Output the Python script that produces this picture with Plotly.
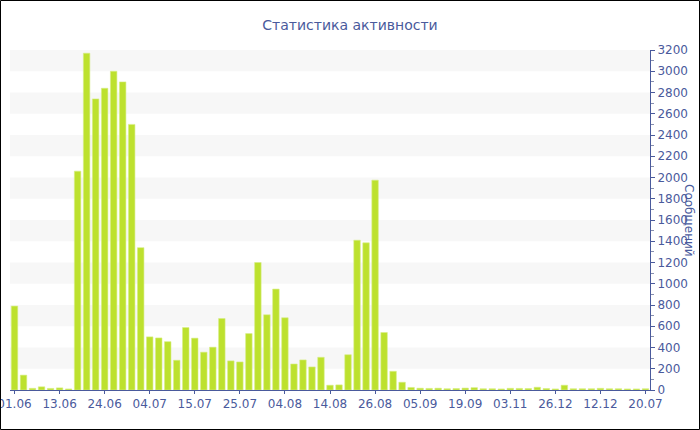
import plotly.graph_objects as go

tick_labels = ["01.06", "13.06", "24.06", "04.07", "15.07", "25.07", "04.08", "14.08",
               "26.08", "05.09", "19.09", "03.11", "26.12", "12.12", "20.07"]

messages = [790, 140, 16, 30, 15, 20, 10, 2060, 3170, 2740,
            2840, 3000, 2900, 2500, 1340, 500, 490, 455, 280, 588,
            488, 356, 403, 673, 274, 264, 531, 1200, 708, 950,
            680, 245, 283, 217, 308, 45, 48, 332, 1410, 1385,
            1975, 541, 176, 73, 24, 17, 15, 17, 12, 14,
            18, 22, 12, 12, 10, 16, 15, 14, 26, 14,
            10, 45, 12, 12, 12, 16, 12, 12, 10, 10, 12]

x_idx = list(range(len(messages)))
label_step = 5

txt = "#4a5a9c"
W, H = 700, 430
ml, mr, mt, mb = 10, 50, 50, 40
pw, ph = W - ml - mr, H - mt - mb

fig = go.Figure()
fig.add_trace(go.Bar(
    x=x_idx, y=messages,
    marker=dict(color="#bde12e", line=dict(color="#d6ee86", width=0.6)),
    hoverinfo="y",
))

shapes = []
for lo in range(200, 3200, 400):
    shapes.append(dict(type="rect", xref="paper", yref="y", x0=0, x1=1, y0=lo, y1=lo + 200,
                       fillcolor="#f7f7f7", line=dict(width=0), layer="below"))
# outer frame
shapes.append(dict(type="rect", xref="paper", yref="paper",
                   x0=(0.5 - ml) / pw, x1=(W - 0.5 - ml) / pw,
                   y0=-(mb - 0.5) / ph, y1=1 + (mt - 0.5) / ph,
                   line=dict(color="black", width=1), fillcolor="rgba(0,0,0,0)", layer="above"))

fig.update_layout(
    width=W, height=H,
    margin=dict(l=ml, r=mr, t=mt, b=mb, autoexpand=False),
    paper_bgcolor="white", plot_bgcolor="white",
    font=dict(family="DejaVu Sans", color=txt, size=12),
    title=dict(text="Статистика активности", x=0.5, xref="container", xanchor="center",
               y=1 - 25.5 / H, yref="container", yanchor="middle",
               font=dict(size=14, color=txt)),
    bargap=0.28,
    showlegend=False,
    shapes=shapes,
    annotations=[dict(text="Сообщений", textangle=90, xref="paper", yref="paper",
                      x=(689 - ml) / pw, y=0.5, showarrow=False,
                      font=dict(size=12, color=txt), xanchor="center", yanchor="middle")],
)
fig.update_xaxes(
    range=[-0.5, len(messages) - 0.5], automargin=False,
    tickmode="array", tickvals=x_idx[::label_step], ticktext=tick_labels,
    ticklabeloverflow="allow",
    showline=True, linecolor=txt, linewidth=1,
    ticks="outside", ticklen=3, tickcolor=txt,
    showgrid=False, zeroline=False,
    tickfont=dict(size=12, color=txt),
)
fig.update_yaxes(
    side="right", range=[0, 3200], dtick=200, tick0=0, automargin=False,
    showline=True, linecolor=txt, linewidth=1,
    ticks="outside", ticklen=4, tickcolor=txt,
    minor=dict(dtick=100, ticks="outside", ticklen=3, tickcolor="#8890b0"),
    showgrid=False, zeroline=False,
    tickfont=dict(size=12, color=txt),
)

fig.write_html("out.html", config={"displayModeBar": False},
               post_script="document.body.style.margin='0';document.body.style.overflow='hidden';")
